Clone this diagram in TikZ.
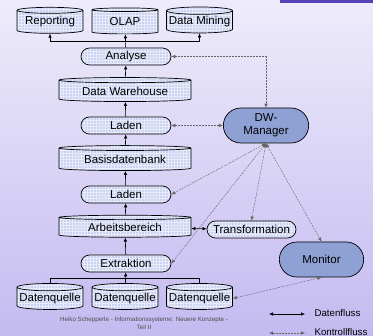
\documentclass[tikz,border=0pt]{standalone}
\usepackage{fontspec}
\setmainfont{Liberation Sans}
\usetikzlibrary{shapes.geometric,shapes.misc,arrows.meta,patterns}
\definecolor{bgtop}{RGB}{238,236,251}
\definecolor{bgbottom}{RGB}{196,186,240}
\definecolor{barcolor}{RGB}{86,66,186}
\definecolor{boxfill}{RGB}{204,210,242}
\definecolor{mgrfill}{RGB}{143,160,212}
\newcommand{\boxcolor}{boxfill}
\newcommand{\mgrcolor}{mgrfill}
\newcommand{\footcolor}{black!70!white}

\begin{document}
\begin{tikzpicture}[x=1pt, y=-1pt, >={Latex[length=4pt,width=3.5pt]},
    font=\fontsize{11.5}{13}\selectfont,
    db/.style={cylinder, shape border rotate=90, aspect=0.12, draw, line width=0.7pt,
        preaction={fill=\boxcolor}, pattern=grid, pattern color=white!55!\boxcolor,
        minimum width=66pt, minimum height=26pt, inner sep=0pt},
    widedb/.style={db, aspect=0.06, minimum width=132pt, minimum height=24pt},
    task/.style={rounded rectangle, draw, line width=0.7pt,
        preaction={fill=\boxcolor}, pattern=grid, pattern color=white!55!\boxcolor,
        minimum width=92pt, minimum height=17pt, inner sep=1pt},
    comp/.style={rounded rectangle, draw, line width=0.7pt, fill=\mgrcolor,
        minimum width=92pt, minimum height=35pt, align=center},
    flow/.style={->, line width=0.6pt},
    ctrl/.style={<->, gray!80!black, line width=0.4pt, dash pattern=on 2pt off 1pt}]
    % background
    \useasboundingbox (0, 0) rectangle (373, 336);
    \shade[top color=bgtop, bottom color=bgbottom] (0, 0) rectangle (373, 336);
    \fill[barcolor] (280, 0) rectangle (373, 3);

    % stores
    \node [db] (rep) at (50, 22) {Reporting};
    \node [db] (olap) at (125, 22) {OLAP};
    \node [db] (dm) at (199.5, 22) {Data Mining};
    \node [widedb] (dwh) at (125, 91) {Data Warehouse};
    \node [widedb, minimum height=25pt] (bdb) at (125, 159.5) {Basisdatenbank};
    \node [widedb, minimum height=22pt] (ab) at (125, 227.5) {Arbeitsbereich};
    \node [db] (dq1) at (50, 298.5) {Datenquelle};
    \node [db] (dq2) at (125, 298.5) {Datenquelle};
    \node [db] (dq3) at (199.5, 298.5) {Datenquelle};

    % steps
    \node [task] (analyse) at (126, 56.5) {Analyse};
    \node [task] (laden1) at (126, 125.5) {Laden};
    \node [task] (laden2) at (126, 194.5) {Laden};
    \node [task] (extr) at (126, 263.5) {Extraktion};
    \node [task, minimum width=91pt] (trans) at (251.5, 229.5) {Transformation};

    % components
    \node [comp] (dwm) at (266, 125.5) {DW-\\Manager};
    \node [comp, minimum width=91pt] (mon) at (321.5, 259.5) {Monitor};

    % data flow
    \coordinate (top) at (125, 41);
    \coordinate (bottom) at (125, 278);
    \draw[flow] (analyse) -- (olap);
    \draw[flow] (top) -| (rep.south);
    \draw[flow] (top) -| (dm.south);
    \draw[flow] (dwh) -- (analyse);
    \draw[flow] (laden1) -- (dwh);
    \draw[flow] (bdb) -- (laden1);
    \draw[flow] (laden2) -- (bdb);
    \draw[flow] (ab) -- (laden2);
    \draw[flow] (extr) -- (ab);
    \draw[line width=0.6pt] (dq1.north) |- (bottom);
    \draw[line width=0.6pt] (dq3.north) |- (bottom);
    \draw[flow] (dq2) -- (extr);
    \draw[flow, <->] (ab) -- (trans);

    % control flow
    \draw[ctrl] (analyse.east) -| (dwm.north);
    \draw[ctrl] (laden1.east) -- (dwm.west);
    \draw[ctrl] (dwm.south) -- (laden2.east);
    \draw[ctrl] (dwm.south) -- (extr.east);
    \draw[ctrl] (dwm.south) -- (trans.north);
    \draw[ctrl] (dwm.south) -- (mon.north);
    \draw[ctrl] (mon.south) -- (dq3.east);

    % legend
    \coordinate (flowA) at (269, 314);
    \coordinate (flowB) at (305, 314);
    \coordinate (ctrlA) at (269, 333);
    \coordinate (ctrlB) at (305, 333);
    \draw[flow, <->] (flowA) -- (flowB);
    \draw[ctrl] (ctrlA) -- (ctrlB);
    \node [anchor=west, font=\fontsize{9.7}{11}\selectfont] (flowtxt) at (311, 313) {Datenfluss};
    \node [anchor=west, font=\fontsize{9.7}{11}\selectfont] (ctrltxt) at (311, 332) {Kontrollfluss};

    % footer
    \node [align=center, text=\footcolor, font=\fontsize{6.2}{8.5}\selectfont] (foot) at (144, 323.5)
        {Heiko Schepperle - Informationssysteme: Neuere Konzepte -\\Teil II};
\end{tikzpicture}
\end{document}
